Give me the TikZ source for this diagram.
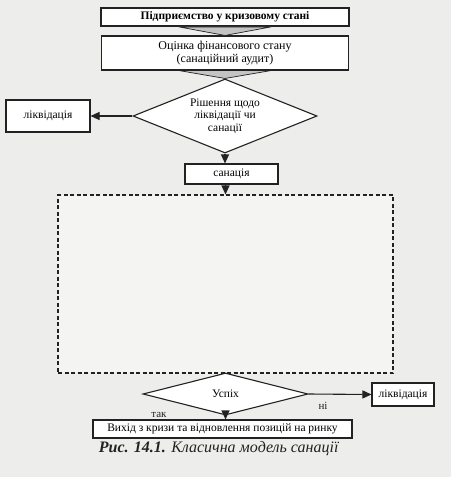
\documentclass[tikz,border=0pt]{standalone}
\usepackage{fontspec}
\setmainfont{Liberation Serif}
\usetikzlibrary{shapes.geometric,arrows.meta,calc}
\definecolor{paper}{HTML}{EDEDEB}
\definecolor{ink}{HTML}{222222}
\definecolor{chevfill}{HTML}{C4C4C4}
\begin{document}
\begin{tikzpicture}[x=1pt,y=-1pt,
  box/.style={draw=ink,fill=white,line width=1.1pt,inner sep=1pt,align=center,font=\fontsize{11.5}{13}\selectfont},
  dia/.style={draw=ink,fill=white,line width=1.1pt,diamond,inner sep=0pt,align=center,font=\fontsize{11.5}{12.5}\selectfont},
  dashbox/.style={draw=ink,line width=1.1pt,dash pattern=on 4pt off 2.5pt,fill=white,fill opacity=0.4,draw opacity=1},
  arr/.style={draw=ink,line width=1.1pt,-{Triangle[length=9pt,width=8pt]}},
  chev/.style={draw=ink,fill=chevfill,line width=0.7pt},
  lbl/.style={font=\fontsize{11}{12}\selectfont,text=ink}]
\fill[paper] (0,0) rectangle (451,477);
\useasboundingbox (0,0) rectangle (451,477);
% top boxes
\node[box,line width=1.8pt,minimum width=248,minimum height=18,font=\bfseries\fontsize{11.5}{13}\selectfont] (n1) at (225,17) {Підприємство у кризовому стані};
\node[box,minimum width=247,minimum height=34,font=\fontsize{12}{13.5}\selectfont] (n2) at (225,53) {Оцінка фінансового стану\\(санаційний аудит)};
% decision 1
\node[dia,aspect=2.6,minimum width=184,minimum height=74] (d1) at (225,116) {Рішення щодо\\ліквідації чи\\санації};
\node[box,minimum width=84,minimum height=32] (liq1) at (48,116) {ліквідація};
\node[box,minimum width=93,minimum height=20] (san) at (231.5,174) {санація};
% process area
\node[dashbox,minimum width=335,minimum height=178] (proc) at (225.5,284) {};
% decision 2
\node[dia,aspect=4,minimum width=165,minimum height=42] (d2) at (225.5,394) {Успіх};
\node[box,minimum width=62,minimum height=23] (liq2) at (403,394.5) {ліквідація};
\node[box,minimum width=259,minimum height=18] (out) at (222.5,429) {Вихід з кризи та відновлення позицій на ринку};
% chevrons
\draw[chev] ($(n1.south)+(-46,0)$) -- (n2.north) -- ($(n1.south)+(46,0)$) -- cycle;
\draw[chev] ($(n2.south)+(-46,0)$) -- (d1.north) -- ($(n2.south)+(46,0)$) -- cycle;
% arrows
\draw[arr] (d1.west) -- (liq1.east);
\draw[arr] (d1.south) -- (d1.south |- san.north);
\draw[arr] (san.south -| proc.north) -- (proc.north);
\draw[arr] (d2.east) -- (liq2.west);
\draw[arr] (d2.south) -- (d2.south |- out.north);
% labels
\node[lbl] (no) at (323,406) {ні};
\node[lbl] (yes) at (159,415) {так};
\node[font=\fontsize{16}{18}\selectfont,text=ink] (cap) at (219,449) {\textbf{\textit{Рис. 14.1.}} \textit{Класична модель санації}};
\end{tikzpicture}
\end{document}
